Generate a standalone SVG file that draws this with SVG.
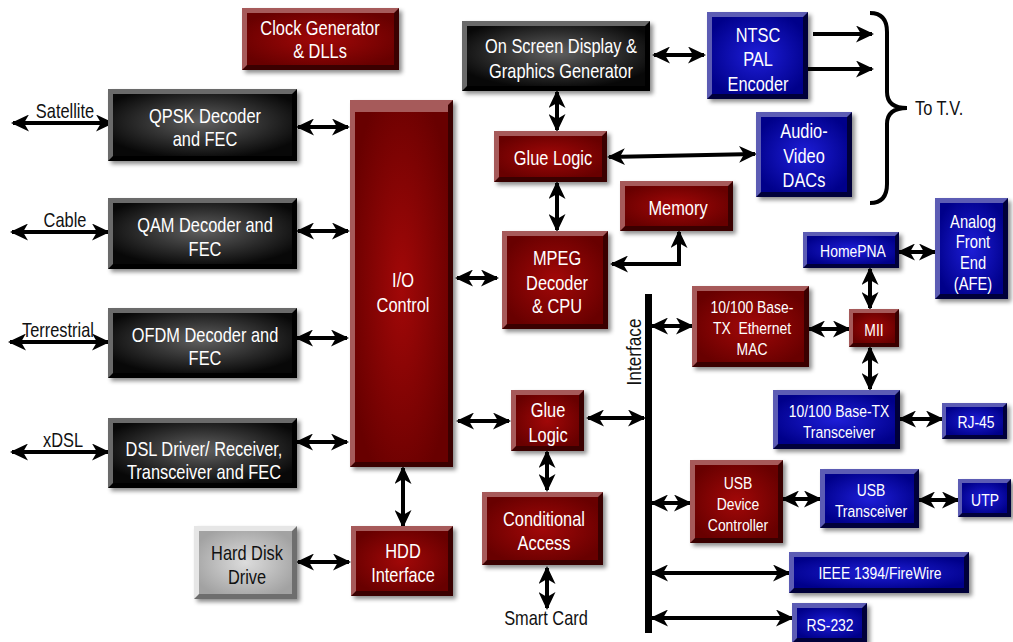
<svg xmlns="http://www.w3.org/2000/svg" width="1013" height="642" viewBox="0 0 1013 642">
<defs>
<style>
.t{font-family:"Liberation Sans",Arial,sans-serif;font-size:20px;fill:#fff;text-anchor:middle}
.s{font-size:17px}
.k{fill:#111}
.lbl{font-family:"Liberation Sans",Arial,sans-serif;font-size:20px;fill:#111;text-anchor:middle}
.lt{filter:url(#ds)}
.red .lt{fill:#a65a5a}.red .dk{fill:#3a0000}.red .face{fill:url(#gRed)}
.blk .lt{fill:#6a6a6a}.blk .dk{fill:#000}.blk .face{fill:url(#gBlk)}
.blu .lt{fill:#5c5cb4}.blu .dk{fill:#00003a}.blu .face{fill:url(#gBlu)}
.gry .lt{fill:#e6e6e6}.gry .dk{fill:#6e6e6e}.gry .face{fill:url(#gGry)}
.c{fill:none;stroke:#000;stroke-width:4;marker-start:url(#ah);marker-end:url(#ah)}
.c1{fill:none;stroke:#000;stroke-width:4;marker-end:url(#ah)}
</style>
<filter id="ds" x="-10%" y="-10%" width="130%" height="130%">
<feDropShadow dx="3" dy="3" stdDeviation="2" flood-color="#000" flood-opacity="0.45"/>
</filter>
<radialGradient id="gRed" cx="0.5" cy="0.5" r="0.6"><stop offset="0" stop-color="#a20808"/><stop offset="1" stop-color="#680000"/></radialGradient>
<radialGradient id="gBlk" cx="0.5" cy="0.45" r="0.6"><stop offset="0" stop-color="#606060"/><stop offset="1" stop-color="#080808"/></radialGradient>
<radialGradient id="gBlu" cx="0.5" cy="0.5" r="0.6"><stop offset="0" stop-color="#1e1ed8"/><stop offset="1" stop-color="#00008a"/></radialGradient>
<radialGradient id="gGry" cx="0.5" cy="0.5" r="0.6"><stop offset="0" stop-color="#dcdcdc"/><stop offset="1" stop-color="#a2a2a2"/></radialGradient>
<marker id="ah" markerUnits="userSpaceOnUse" markerWidth="18" markerHeight="17" refX="16" refY="8.5" orient="auto-start-reverse">
<path d="M0,0 L18,8.5 L0,17 L5,8.5 Z" fill="#000"/>
</marker>
</defs>
<rect width="1013" height="642" fill="#fff"/>

<g id="connectors">
<path class="c" d="M13,123 H112"/>
<path class="c" d="M12,232 H108"/>
<path class="c" d="M10,342 H108"/>
<path class="c" d="M12,452 H108"/>
<path class="c" d="M298,127 H348"/>
<path class="c" d="M298,231 H348"/>
<path class="c" d="M297,338 H347"/>
<path class="c" d="M297,442 H347"/>
<path class="c" d="M298,562 H349"/>
<path class="c" d="M403,468 V526"/>
<path class="c" d="M457,278 H497"/>
<path class="c" d="M458,421 H509"/>
<path class="c" d="M588,418 H644"/>
<path class="c" d="M547,452 V490"/>
<path class="c" d="M547,568 V608"/>
<path class="c" d="M557,92 V130"/>
<path class="c" d="M557,183 V230"/>
<path class="c" d="M654,55 H704"/>
<path class="c" d="M609,157 L755,154"/>
<path class="c1" d="M813,34 H872"/>
<path class="c1" d="M793,69 H872"/>
<path class="c" d="M679,232 V264 H612"/>
<path class="c" d="M652,326 H692"/>
<path class="c" d="M809,329 H849"/>
<path class="c" d="M899,252 H935"/>
<path class="c" d="M870,269 V308"/>
<path class="c" d="M870,348 V389"/>
<path class="c" d="M900,419 H942"/>
<path class="c" d="M652,503 H690"/>
<path class="c" d="M783,499 H820"/>
<path class="c" d="M919,500 H958"/>
<path class="c" d="M652,573 H789"/>
<path class="c" d="M652,618 H792"/>
<rect x="645" y="294" width="7" height="339" fill="#000"/>
<path d="M870,13 Q887,13 887,32 L887,92 Q887,108 907,108 Q887,108 887,124 L887,184 Q887,203 870,203" fill="none" stroke="#000" stroke-width="4"/>
</g>

<g id="labels">
<text class="lbl" transform="translate(65,0) scale(.82,1)" y="118">Satellite</text>
<text class="lbl" transform="translate(65,0) scale(.82,1)" y="227">Cable</text>
<text class="lbl" transform="translate(58,0) scale(.82,1)" y="337">Terrestrial</text>
<text class="lbl" transform="translate(63,0) scale(.82,1)" y="447">xDSL</text>
<text class="lbl" transform="translate(546,0) scale(.82,1)" y="625">Smart Card</text>
<text class="lbl" transform="translate(915,0) scale(.82,1)" y="115" style="text-anchor:start">To T.V.</text>
<text class="lbl" transform="translate(641,352) rotate(-90) scale(.82,1)" style="font-size:21px">Interface</text>
</g>

<g id="clock" class="red">
<rect class="lt" x="242" y="8" width="157" height="62"/>
<path class="dk" d="M399,8 L399,70 L242,70 L247,65 L394,65 L394,13 Z"/>
<rect class="face" x="247" y="13" width="147" height="52"/>
<g transform="translate(320,0) scale(.82,1)">
<text class="t" y="35">Clock Generator</text>
<text class="t" y="58">&amp; DLLs</text>
</g>
</g>

<g id="qpsk" class="blk">
<rect class="lt" x="108" y="89" width="189" height="72"/>
<path class="dk" d="M297,89 L297,161 L108,161 L113,156 L292,156 L292,94 Z"/>
<rect class="face" x="113" y="94" width="179" height="62"/>
<g transform="translate(205,0) scale(.82,1)">
<text class="t" y="123">QPSK Decoder</text>
<text class="t" y="146">and FEC</text>
</g>
</g>

<g id="qam" class="blk">
<rect class="lt" x="108" y="198" width="189" height="71"/>
<path class="dk" d="M297,198 L297,269 L108,269 L113,264 L292,264 L292,203 Z"/>
<rect class="face" x="113" y="203" width="179" height="61"/>
<g transform="translate(205,0) scale(.82,1)">
<text class="t" y="232">QAM Decoder and</text>
<text class="t" y="256">FEC</text>
</g>
</g>

<g id="ofdm" class="blk">
<rect class="lt" x="108" y="308" width="189" height="70"/>
<path class="dk" d="M297,308 L297,378 L108,378 L113,373 L292,373 L292,313 Z"/>
<rect class="face" x="113" y="313" width="179" height="60"/>
<g transform="translate(205,0) scale(.82,1)">
<text class="t" y="342">OFDM Decoder and</text>
<text class="t" y="365">FEC</text>
</g>
</g>

<g id="dsl" class="blk">
<rect class="lt" x="108" y="418" width="189" height="70"/>
<path class="dk" d="M297,418 L297,488 L108,488 L113,483 L292,483 L292,423 Z"/>
<rect class="face" x="113" y="423" width="179" height="60"/>
<g transform="translate(204,0) scale(.82,1)">
<text class="t" y="456">DSL Driver/ Receiver,</text>
<text class="t" y="479">Transceiver and FEC</text>
</g>
</g>

<g id="hdd" class="gry">
<rect class="lt" x="194" y="526" width="103" height="73"/>
<path class="dk" d="M297,526 L297,599 L194,599 L199,594 L292,594 L292,531 Z"/>
<rect class="face" x="199" y="531" width="93" height="63"/>
<g transform="translate(247,0) scale(.82,1)">
<text class="t k" y="560">Hard Disk</text>
<text class="t k" y="584">Drive</text>
</g>
</g>

<g id="io" class="red">
<rect class="lt" x="350" y="100" width="103" height="367"/>
<path class="dk" d="M453,100 L453,467 L350,467 L355,462 L448,462 L448,105 Z"/>
<rect class="face" x="355" y="112" width="93" height="350"/>
<g transform="translate(403,0) scale(.82,1)">
<text class="t" y="287">I/O</text>
<text class="t" y="312">Control</text>
</g>
</g>

<g id="hddif" class="red">
<rect class="lt" x="351" y="526" width="102" height="70"/>
<path class="dk" d="M453,526 L453,596 L351,596 L356,591 L448,591 L448,531 Z"/>
<rect class="face" x="356" y="531" width="92" height="60"/>
<g transform="translate(403,0) scale(.82,1)">
<text class="t" y="558">HDD</text>
<text class="t" y="582">Interface</text>
</g>
</g>

<g id="osd" class="blk">
<rect class="lt" x="462" y="21" width="188" height="70"/>
<path class="dk" d="M650,21 L650,91 L462,91 L467,86 L645,86 L645,26 Z"/>
<rect class="face" x="467" y="26" width="178" height="60"/>
<g transform="translate(561,0) scale(.82,1)">
<text class="t" y="53">On Screen Display &amp;</text>
<text class="t" y="78">Graphics Generator</text>
</g>
</g>

<g id="ntsc" class="blu">
<rect class="lt" x="707" y="12" width="101" height="87"/>
<path class="dk" d="M808,12 L808,99 L707,99 L712,94 L803,94 L803,17 Z"/>
<rect class="face" x="712" y="17" width="91" height="77"/>
<g transform="translate(758,0) scale(.82,1)">
<text class="t" y="42">NTSC</text>
<text class="t" y="66">PAL</text>
<text class="t" y="91">Encoder</text>
</g>
</g>

<g id="glue1" class="red">
<rect class="lt" x="494" y="131" width="113" height="51"/>
<path class="dk" d="M607,131 L607,182 L494,182 L499,177 L602,177 L602,136 Z"/>
<rect class="face" x="499" y="136" width="103" height="41"/>
<g transform="translate(553,0) scale(.82,1)">
<text class="t" y="165">Glue Logic</text>
</g>
</g>

<g id="dacs" class="blu">
<rect class="lt" x="756" y="112" width="96" height="85"/>
<path class="dk" d="M852,112 L852,197 L756,197 L761,192 L847,192 L847,117 Z"/>
<rect class="face" x="761" y="117" width="86" height="75"/>
<g transform="translate(804,0) scale(.82,1)">
<text class="t" y="138">Audio-</text>
<text class="t" y="163">Video</text>
<text class="t" y="187">DACs</text>
</g>
</g>

<g id="memory" class="red">
<rect class="lt" x="620" y="181" width="113" height="50"/>
<path class="dk" d="M733,181 L733,231 L620,231 L625,226 L728,226 L728,186 Z"/>
<rect class="face" x="625" y="186" width="103" height="40"/>
<g transform="translate(678,0) scale(.82,1)">
<text class="t" y="215">Memory</text>
</g>
</g>

<g id="mpeg" class="red">
<rect class="lt" x="502" y="231" width="106" height="98"/>
<path class="dk" d="M608,231 L608,329 L502,329 L507,324 L603,324 L603,236 Z"/>
<rect class="face" x="507" y="236" width="96" height="88"/>
<g transform="translate(557,0) scale(.82,1)">
<text class="t" y="265">MPEG</text>
<text class="t" y="290">Decoder</text>
<text class="t" y="313">&amp; CPU</text>
</g>
</g>

<g id="afe" class="blu">
<rect class="lt" x="935" y="198" width="73" height="101"/>
<path class="dk" d="M1008,198 L1008,299 L935,299 L940,294 L1003,294 L1003,203 Z"/>
<rect class="face" x="940" y="203" width="63" height="91"/>
<g transform="translate(973,0) scale(.82,1)" style="font-size:18px">
<text class="t" y="228" style="font-size:18px">Analog</text>
<text class="t" y="248" style="font-size:18px">Front</text>
<text class="t" y="269" style="font-size:18px">End</text>
<text class="t" y="290" style="font-size:18px">(AFE)</text>
</g>
</g>

<g id="homepna" class="blu">
<rect class="lt" x="803" y="232" width="96" height="36"/>
<path class="dk" d="M899,232 L899,268 L803,268 L807,264 L895,264 L895,236 Z"/>
<rect class="face" x="807" y="236" width="88" height="28"/>
<g transform="translate(853,0) scale(.82,1)">
<text class="t s" y="257">HomePNA</text>
</g>
</g>

<g id="mac" class="red">
<rect class="lt" x="692" y="286" width="117" height="81"/>
<path class="dk" d="M809,286 L809,367 L692,367 L697,362 L804,362 L804,291 Z"/>
<rect class="face" x="697" y="291" width="107" height="71"/>
<g transform="translate(752,0) scale(.82,1)">
<text class="t s" y="313">10/100 Base-</text>
<text class="t s" y="334" xml:space="preserve">TX  Ethernet</text>
<text class="t s" y="355">MAC</text>
</g>
</g>

<g id="mii" class="red">
<rect class="lt" x="849" y="309" width="50" height="38"/>
<path class="dk" d="M899,309 L899,347 L849,347 L853,343 L895,343 L895,313 Z"/>
<rect class="face" x="853" y="313" width="42" height="30"/>
<g transform="translate(874,0) scale(.82,1)">
<text class="t s" y="336">MII</text>
</g>
</g>

<g id="trx" class="blu">
<rect class="lt" x="773" y="390" width="127" height="59"/>
<path class="dk" d="M900,390 L900,449 L773,449 L778,444 L895,444 L895,395 Z"/>
<rect class="face" x="778" y="395" width="117" height="49"/>
<g transform="translate(839,0) scale(.82,1)">
<text class="t s" y="417">10/100 Base-TX</text>
<text class="t s" y="438">Transceiver</text>
</g>
</g>

<g id="rj45" class="blu">
<rect class="lt" x="942" y="403" width="65" height="36"/>
<path class="dk" d="M1007,403 L1007,439 L942,439 L946,435 L1003,435 L1003,407 Z"/>
<rect class="face" x="946" y="407" width="57" height="28"/>
<g transform="translate(976,0) scale(.82,1)">
<text class="t s" y="428">RJ-45</text>
</g>
</g>

<g id="glue2" class="red">
<rect class="lt" x="511" y="390" width="73" height="61"/>
<path class="dk" d="M584,390 L584,451 L511,451 L516,446 L579,446 L579,395 Z"/>
<rect class="face" x="516" y="395" width="63" height="51"/>
<g transform="translate(548,0) scale(.82,1)">
<text class="t" y="417">Glue</text>
<text class="t" y="442">Logic</text>
</g>
</g>

<g id="ca" class="red">
<rect class="lt" x="482" y="492" width="121" height="73"/>
<path class="dk" d="M603,492 L603,565 L482,565 L487,560 L598,560 L598,497 Z"/>
<rect class="face" x="487" y="497" width="111" height="63"/>
<g transform="translate(544,0) scale(.82,1)">
<text class="t" y="526">Conditional</text>
<text class="t" y="550">Access</text>
</g>
</g>

<g id="usbdc" class="red">
<rect class="lt" x="690" y="460" width="93" height="83"/>
<path class="dk" d="M783,460 L783,543 L690,543 L695,538 L778,538 L778,465 Z"/>
<rect class="face" x="695" y="465" width="83" height="73"/>
<g transform="translate(738,0) scale(.82,1)">
<text class="t s" y="489">USB</text>
<text class="t s" y="510">Device</text>
<text class="t s" y="531">Controller</text>
</g>
</g>

<g id="usbt" class="blu">
<rect class="lt" x="820" y="469" width="99" height="59"/>
<path class="dk" d="M919,469 L919,528 L820,528 L825,523 L914,523 L914,474 Z"/>
<rect class="face" x="825" y="474" width="89" height="49"/>
<g transform="translate(871,0) scale(.82,1)">
<text class="t s" y="496">USB</text>
<text class="t s" y="517">Transceiver</text>
</g>
</g>

<g id="utp" class="blu">
<rect class="lt" x="958" y="479" width="53" height="38"/>
<path class="dk" d="M1011,479 L1011,517 L958,517 L962,513 L1007,513 L1007,483 Z"/>
<rect class="face" x="962" y="483" width="45" height="30"/>
<g transform="translate(985,0) scale(.82,1)">
<text class="t s" y="506">UTP</text>
</g>
</g>

<g id="ieee" class="blu">
<rect class="lt" x="789" y="552" width="180" height="41"/>
<path class="dk" d="M969,552 L969,593 L789,593 L794,588 L964,588 L964,557 Z"/>
<rect class="face" x="794" y="557" width="170" height="31"/>
<g transform="translate(880,0) scale(.82,1)">
<text class="t s" y="579">IEEE 1394/FireWire</text>
</g>
</g>

<g id="rs232" class="blu">
<rect class="lt" x="792" y="603" width="75" height="40"/>
<path class="dk" d="M867,603 L867,643 L792,643 L797,638 L862,638 L862,608 Z"/>
<rect class="face" x="797" y="608" width="65" height="30"/>
<g transform="translate(830,0) scale(.82,1)">
<text class="t s" y="631">RS-232</text>
</g>
</g>
</svg>
